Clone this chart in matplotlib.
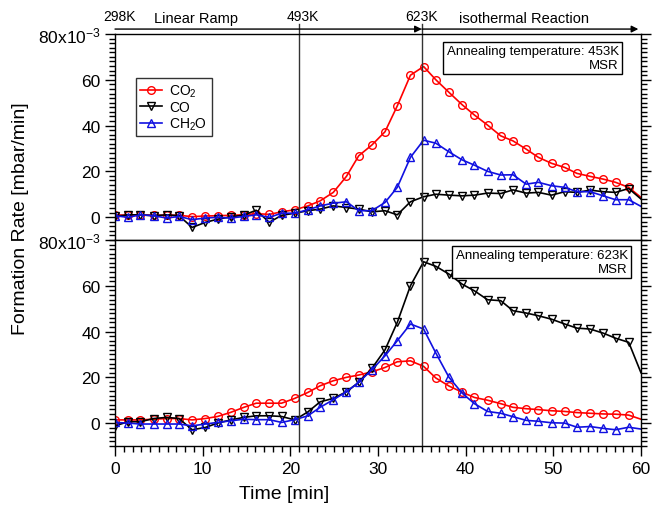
import matplotlib
matplotlib.use("Agg")
import matplotlib.pyplot as plt
import numpy as np
from matplotlib.ticker import MultipleLocator

plt.rcParams['font.family'] = ['Liberation Sans', 'DejaVu Sans']
plt.rcParams['mathtext.default'] = 'regular'

# sample times (min), markers sit on these
times = [0, 1.5, 2.9, 4.4, 5.9, 7.3, 8.8, 10.3, 11.7, 13.2, 14.7, 16.1, 17.6, 19.0,
         20.5, 22.0, 23.4, 24.9, 26.4, 27.8, 29.3, 30.8, 32.2, 33.7, 35.2, 36.6, 38.1,
         39.6, 41.0, 42.5, 44.0, 45.4, 46.9, 48.3, 49.8, 51.3, 52.7, 54.2, 55.7, 57.1, 58.6]
t_end = 60

# annealing 453K (upper panel), mbar/min x 1e-3
co2_453 = [1.0, 0.8, 1.0, 0.8, 0.8, 0.8, 0.2, 0.5, 0.6, 0.8, 1.0, 1.5, 1.2, 2.3,
           3.2, 4.9, 7.1, 10.8, 17.8, 26.8, 31.5, 37.3, 48.6, 62.0, 65.8, 60.0, 54.5,
           49.1, 44.6, 40.2, 35.5, 33.3, 29.7, 26.1, 23.5, 21.7, 19.1, 17.8, 16.6, 15.2, 13.0]
co_453 = [0.3, 1.0, 1.0, 0.6, 1.0, 0.6, -4.5, -2.3, -0.9, 0.1, 0.9, 3.0, -2.3, 0.8,
          1.7, 2.8, 3.5, 4.9, 4.2, 3.5, 2.3, 2.8, 1.0, 6.7, 8.9, 10.0, 9.6,
          9.3, 9.6, 10.5, 10.3, 11.9, 10.5, 10.8, 9.6, 11.1, 10.8, 11.8, 11.1, 10.8, 12.5]
ch2o_453 = [0.6, -0.1, 1.0, 0.6, -0.4, 0.3, -1.1, -0.4, -0.1, -0.4, 0.3, 1.0, -0.1, 1.7,
            1.7, 3.2, 4.9, 6.1, 6.7, 2.8, 2.8, 6.4, 13.0, 26.1, 33.6, 32.3, 28.5,
            25.0, 22.7, 20.0, 18.4, 18.5, 14.4, 15.2, 13.7, 13.0, 11.1, 11.1, 9.3, 7.6, 7.6]
end_453 = {'co2': 8.6, 'co': 7.9, 'ch2o': 4.7}

# annealing 623K (lower panel)
co2_623 = [1.4, 1.4, 1.4, 1.7, 2.0, 2.0, 1.4, 2.0, 2.9, 4.7, 6.9, 8.7, 8.7, 8.7,
           10.8, 13.4, 16.3, 18.5, 20.0, 21.0, 22.4, 24.3, 26.8, 27.2, 24.8, 19.7, 16.2,
           13.5, 11.2, 10.0, 8.5, 6.9, 6.3, 5.9, 5.4, 5.1, 4.6, 4.3, 4.0, 3.9, 3.5]
co_623 = [-1.2, 0.6, 0.6, 2.0, 2.5, 2.0, -2.9, -1.9, 0.0, 1.4, 2.5, 3.2, 3.2, 2.9,
          1.4, 4.9, 9.3, 10.8, 13.7, 17.8, 23.9, 32.0, 44.0, 60.0, 70.5, 68.5, 65.1,
          60.7, 57.8, 53.9, 53.5, 49.1, 48.1, 46.9, 45.4, 43.3, 41.5, 41.1, 39.3, 37.1, 35.3]
ch2o_623 = [0.3, 0.0, -0.4, -0.4, -0.4, -0.4, -1.2, -0.4, 0.3, 1.0, 1.7, 1.5, 1.5, 0.3,
            1.5, 3.2, 6.9, 10.2, 13.7, 17.8, 23.3, 29.4, 36.0, 43.3, 41.1, 30.6, 20.0,
            13.1, 8.5, 5.1, 4.3, 2.8, 1.2, 0.8, 0.15, 0.0, -1.8, -1.5, -2.3, -2.9, -1.8]
end_623 = {'co2': 1.7, 'co': 22.0, 'ch2o': -2.6}

ramp_end = 21
iso_start = 35
temp_labels = [(0.5, '298K'), (21.4, '493K'), (35, '623K')]
stage_labels = [(9.2, 'Linear Ramp'), (46.7, 'isothermal Reaction')]

fig = plt.figure(figsize=(6.52, 5.06), dpi=100)
ax1 = fig.add_axes([0.1764, 0.5237, 0.8067, 0.4071])
ax2 = fig.add_axes([0.1764, 0.1166, 0.8067, 0.4071])


def draw(ax, co2, co, ch2o, ends):
    t = times + [t_end]
    ax.plot(t, co2 + [ends['co2']], color='red', lw=1.2, marker='o', ms=5.5,
            mfc='none', mec='red', markevery=range(len(times)), label='CO$_2$')
    ax.plot(t, co + [ends['co']], color='black', lw=1.2, marker='v', ms=5.5,
            mfc='none', mec='black', markevery=range(len(times)), label='CO')
    ax.plot(t, ch2o + [ends['ch2o']], color='#1010e0', lw=1.2, marker='^', ms=5.5,
            mfc='none', mec='#1010e0', markevery=range(len(times)), label='CH$_2$O')
    ax.set_xlim(0, 60)
    ax.set_ylim(-10, 80)
    ax.set_yticks([0, 20, 40, 60, 80])
    ax.set_yticklabels(['0', '20', '40', '60', '80x10$^{-3}$'])
    ax.yaxis.set_minor_locator(MultipleLocator(2))
    ax.xaxis.set_major_locator(MultipleLocator(10))
    ax.xaxis.set_minor_locator(MultipleLocator(1))
    ax.tick_params(which='both', direction='out', right=True, top=False, labelsize=12.5)
    ax.tick_params(which='major', length=7, width=1)
    ax.tick_params(which='minor', length=4, width=1)
    for s in ax.spines.values():
        s.set_linewidth(1.0)


draw(ax1, co2_453, co_453, ch2o_453, end_453)
draw(ax2, co2_623, co_623, ch2o_623, end_623)

ax1.tick_params(axis='x', which='both', bottom=False, labelbottom=False)

# stage boundaries
ax1.axvline(ramp_end, ymin=0, ymax=1.05, color='#333333', lw=1, clip_on=False)
ax1.axvline(iso_start, ymin=0, ymax=1.05, color='#333333', lw=1, clip_on=False)
ax2.axvline(ramp_end, color='#333333', lw=1)
ax2.axvline(iso_start, color='#333333', lw=1)

# arrows over the top panel
trans = ax1.get_xaxis_transform()
ax1.annotate('', xy=(iso_start, 1.024), xytext=(0, 1.024), xycoords=trans, textcoords=trans,
             arrowprops=dict(arrowstyle='-|>', color='black', lw=1, mutation_scale=10,
                             shrinkA=0, shrinkB=0), annotation_clip=False)
ax1.annotate('', xy=(59.7, 1.024), xytext=(iso_start, 1.024), xycoords=trans, textcoords=trans,
             arrowprops=dict(arrowstyle='-|>', color='black', lw=1, mutation_scale=10,
                             shrinkA=0, shrinkB=0), annotation_clip=False)
for x, s in temp_labels:
    ax1.text(x, 1.087, s, transform=trans, ha='center', va='center', fontsize=10)
for x, s in stage_labels:
    ax1.text(x, 1.08, s, transform=trans, ha='center', va='center', fontsize=10.5)

box = dict(boxstyle='square,pad=0.25', fc='white', ec='black', lw=1)
ax1.text(0.958, 0.947, 'Annealing temperature: 453K\nMSR', transform=ax1.transAxes,
         ha='right', va='top', fontsize=9.5, multialignment='right', bbox=box)
ax2.text(0.975, 0.957, 'Annealing temperature: 623K\nMSR', transform=ax2.transAxes,
         ha='right', va='top', fontsize=9.5, multialignment='right', bbox=box)

leg = ax1.legend(loc='upper left', bbox_to_anchor=(0.04, 0.785), fontsize=10,
                 frameon=True, fancybox=False, edgecolor='black', handlelength=1.6,
                 borderpad=0.3, labelspacing=0.1, handletextpad=0.5, borderaxespad=0)
leg.get_frame().set_linewidth(1)

fig.text(0.032, 0.567, 'Formation Rate [mbar/min]', rotation=90, ha='center', va='center',
         fontsize=14)
fig.text(0.436, 0.022, 'Time [min]', ha='center', va='center', fontsize=14)

fig.savefig('out.png', dpi=100)
